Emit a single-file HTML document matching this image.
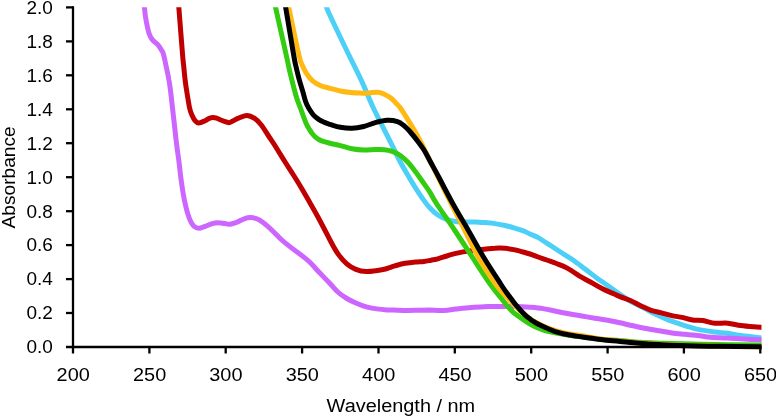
<!DOCTYPE html>
<html><head><meta charset="utf-8"><title>Absorbance spectra</title>
<style>
html,body{margin:0;padding:0;background:#fff;}
body{width:776px;height:417px;overflow:hidden;}
svg{display:block;}
text{font-family:"Liberation Sans",sans-serif;fill:#000;}
svg{will-change:transform;}
</style></head>
<body>
<svg width="776" height="417" viewBox="0 0 776 417">
<rect width="776" height="417" fill="#ffffff"/>
<defs><clipPath id="plot"><rect x="60" y="7.2" width="701.5" height="360"/></clipPath></defs>
<g clip-path="url(#plot)" fill="none" stroke-width="5.0" stroke-linejoin="round" stroke-linecap="butt">
<path stroke="#4DD0F8" d="M323.5 0.0C324.0 1.2 325.4 4.5 326.5 7.1C327.6 9.7 326.4 7.7 330.0 15.5C333.6 23.3 343.2 43.3 348.4 54.0C353.6 64.7 356.9 70.9 361.1 79.9C365.3 88.9 369.5 99.7 373.4 108.0C377.3 116.3 381.0 123.3 384.4 130.0C387.8 136.7 390.9 142.9 393.5 148.2C396.1 153.5 397.9 157.5 400.3 162.0C402.7 166.5 405.2 170.7 407.7 175.0C410.2 179.3 412.9 183.8 415.5 187.9C418.1 192.0 420.9 196.2 423.3 199.6C425.7 202.9 427.6 205.4 430.0 208.0C432.4 210.6 435.0 213.1 437.8 215.0C440.6 216.9 443.8 218.4 446.8 219.5C449.8 220.6 452.6 221.1 455.9 221.5C459.1 221.9 463.1 222.0 466.3 222.1C469.5 222.2 472.3 221.8 475.3 221.9C478.3 222.0 481.1 222.3 484.4 222.6C487.6 222.9 491.4 223.1 494.8 223.6C498.2 224.1 501.7 224.7 505.1 225.5C508.6 226.3 512.5 227.4 515.5 228.3C518.5 229.2 520.9 229.9 523.3 230.8C525.7 231.8 527.6 232.9 530.0 234.0C532.4 235.1 535.0 235.9 537.8 237.4C540.6 238.9 543.8 241.3 546.8 243.2C549.8 245.1 553.1 247.2 555.9 249.0C558.7 250.8 560.7 252.2 563.7 254.2C566.7 256.1 570.3 258.1 574.0 260.7C577.7 263.2 581.8 266.6 585.7 269.5C589.6 272.4 593.7 275.7 597.4 278.4C601.1 281.1 604.0 282.9 607.7 285.5C611.4 288.1 615.7 291.4 619.4 294.0C623.1 296.6 625.7 298.6 630.0 301.0C634.3 303.4 640.2 306.1 645.0 308.6C649.8 311.1 654.9 313.9 658.9 315.8C662.9 317.8 665.8 319.0 669.2 320.3C672.7 321.6 676.2 322.7 679.6 323.8C683.0 324.9 686.5 326.1 689.9 327.1C693.3 328.1 696.1 329.1 700.3 329.9C704.5 330.7 710.3 331.4 714.9 332.0C719.5 332.6 723.5 332.7 727.8 333.3C732.1 333.9 736.5 334.8 740.8 335.4C745.1 336.0 750.0 336.5 753.7 337.0C757.4 337.5 761.5 338.0 763.0 338.2"/>
<path stroke="#CC66FF" d="M143.6 0.0C143.7 1.2 144.1 4.3 144.4 7.1C144.7 9.9 145.0 13.7 145.5 16.8C146.0 19.9 146.5 23.0 147.2 25.9C147.8 28.8 148.5 31.9 149.4 34.3C150.3 36.7 151.3 38.5 152.7 40.2C154.1 41.9 156.3 43.0 157.8 44.7C159.3 46.4 160.8 49.0 161.7 50.5C162.6 52.0 162.6 51.2 163.4 54.0C164.2 56.8 165.4 62.7 166.3 67.0C167.2 71.3 168.2 75.6 168.9 79.9C169.7 84.2 170.2 88.2 170.8 92.9C171.4 97.6 171.8 102.2 172.5 108.0C173.2 113.8 174.0 121.4 174.7 127.4C175.4 133.5 175.9 138.5 176.6 144.3C177.3 150.1 178.3 156.5 179.0 162.0C179.7 167.5 180.1 172.3 180.8 177.5C181.5 182.7 182.3 188.3 183.1 193.1C183.9 197.8 184.8 202.2 185.7 206.0C186.6 209.8 187.6 213.4 188.5 216.0C189.4 218.6 190.0 220.1 190.9 221.8C191.8 223.5 192.8 225.3 194.1 226.4C195.4 227.5 196.9 228.3 198.7 228.3C200.5 228.3 202.9 227.2 205.1 226.4C207.2 225.7 209.4 224.4 211.6 223.8C213.8 223.2 215.9 222.8 218.1 222.7C220.3 222.6 222.6 223.2 224.6 223.5C226.6 223.8 227.8 224.5 230.0 224.2C232.2 223.9 235.4 222.7 237.8 221.8C240.2 220.9 242.0 219.5 244.2 218.8C246.3 218.1 248.3 217.5 250.7 217.6C253.1 217.7 255.9 218.3 258.5 219.6C261.1 220.8 263.7 223.0 266.3 225.1C268.9 227.2 271.4 229.7 274.0 232.2C276.6 234.7 279.2 237.6 281.8 240.0C284.4 242.4 287.0 244.3 289.6 246.4C292.2 248.5 294.8 250.4 297.4 252.3C300.0 254.2 302.7 256.2 305.1 258.1C307.5 260.0 309.6 261.9 311.6 263.9C313.6 265.9 313.9 266.7 317.0 270.0C320.1 273.3 326.5 279.9 330.0 283.6C333.5 287.3 335.0 289.5 337.8 292.0C340.6 294.5 343.8 296.7 346.8 298.5C349.8 300.3 352.6 301.6 355.9 303.0C359.1 304.4 362.9 305.9 366.3 306.9C369.8 307.9 373.2 308.4 376.6 308.9C380.1 309.4 383.5 309.7 387.0 309.9C390.5 310.1 393.9 310.1 397.4 310.2C400.8 310.3 403.8 310.4 407.7 310.4C411.6 310.4 417.0 310.2 420.7 310.2C424.4 310.1 426.1 310.1 430.0 310.1C433.9 310.2 439.9 310.7 444.2 310.5C448.5 310.3 451.3 309.5 455.9 309.0C460.4 308.5 466.1 307.8 471.5 307.4C476.9 307.0 483.6 306.8 488.3 306.6C493.1 306.5 495.6 306.5 500.0 306.5C504.4 306.5 510.0 306.3 515.0 306.4C520.0 306.5 525.3 306.8 530.0 307.2C534.7 307.6 538.7 307.9 543.0 308.6C547.3 309.3 551.6 310.3 555.9 311.2C560.2 312.1 564.6 313.0 568.9 313.8C573.2 314.6 577.5 315.3 581.8 316.0C586.1 316.7 590.5 317.5 594.8 318.2C599.1 318.9 603.5 319.4 607.7 320.2C611.9 321.0 615.8 321.9 620.0 322.8C624.2 323.7 628.7 324.9 633.0 325.8C637.3 326.8 641.6 327.7 645.9 328.5C650.2 329.3 654.6 330.1 658.9 330.8C663.2 331.5 667.5 332.3 671.8 332.9C676.1 333.5 680.5 333.8 684.8 334.2C689.1 334.6 693.4 335.0 697.7 335.5C702.0 336.0 705.7 336.9 710.7 337.3C715.7 337.7 722.8 337.9 727.8 338.1C732.8 338.3 736.5 338.4 740.8 338.7C745.1 338.9 750.0 339.4 753.7 339.6C757.4 339.8 761.5 339.9 763.0 340.0"/>
<path stroke="#C00000" d="M178.2 0.0C178.3 1.2 178.1 -1.9 178.8 7.1C179.5 16.1 181.7 44.0 182.5 54.0C183.3 64.0 183.4 62.7 183.8 67.0C184.2 71.3 184.6 75.6 185.1 79.9C185.6 84.2 186.2 88.2 187.0 92.9C187.8 97.6 188.8 104.3 189.6 108.0C190.4 111.7 191.0 113.0 191.9 115.1C192.8 117.1 193.7 119.0 194.8 120.3C195.9 121.6 197.0 122.8 198.7 122.9C200.4 123.0 203.3 121.5 205.1 120.7C206.8 120.0 207.9 118.9 209.2 118.4C210.5 117.9 211.7 117.5 212.9 117.5C214.1 117.5 215.3 117.8 216.6 118.2C217.9 118.6 218.9 119.3 220.7 120.0C222.5 120.7 225.6 121.8 227.2 122.2C228.8 122.6 228.2 123.1 230.0 122.5C231.8 121.9 235.0 119.6 237.8 118.4C240.6 117.2 244.0 115.4 246.8 115.4C249.6 115.4 252.2 116.8 254.6 118.4C257.0 120.0 258.7 121.8 261.1 124.8C263.5 127.8 266.3 132.6 268.9 136.5C271.5 140.4 274.0 144.0 276.6 148.2C279.2 152.4 282.0 157.0 284.8 161.5C287.6 166.0 290.6 170.4 293.6 175.2C296.6 179.9 299.8 185.2 302.6 190.0C305.4 194.8 308.1 199.7 310.6 204.0C313.1 208.3 315.1 211.8 317.4 216.0C319.7 220.2 322.2 225.0 324.3 229.0C326.4 233.0 327.8 235.9 330.0 240.0C332.2 244.1 335.0 249.6 337.8 253.6C340.6 257.6 343.8 261.3 346.8 263.9C349.8 266.5 352.6 268.1 355.9 269.4C359.1 270.7 362.0 271.4 366.3 271.5C370.6 271.6 377.1 270.7 381.8 269.8C386.6 268.9 390.9 267.0 394.8 265.9C398.7 264.8 401.7 263.9 405.1 263.3C408.6 262.7 412.4 262.3 415.5 262.0C418.6 261.7 421.4 261.7 424.0 261.4C426.6 261.1 428.7 260.6 431.0 260.2C433.3 259.8 435.2 259.5 437.8 258.8C440.4 258.1 443.8 256.9 446.8 256.0C449.8 255.1 452.0 254.2 455.9 253.4C459.8 252.6 465.2 251.6 470.0 250.9C474.8 250.2 480.3 249.6 484.4 249.2C488.5 248.8 491.4 248.3 494.8 248.2C498.2 248.0 501.7 248.0 505.1 248.3C508.6 248.6 512.5 249.4 515.5 250.0C518.5 250.6 520.6 251.3 523.0 252.0C525.4 252.7 527.5 253.2 530.0 254.0C532.5 254.8 535.2 256.0 538.0 257.0C540.8 258.0 543.8 258.9 546.8 260.0C549.8 261.1 552.9 262.1 555.9 263.3C558.9 264.5 562.5 265.8 565.0 267.0C567.5 268.2 568.6 268.9 571.0 270.4C573.4 271.9 575.9 273.8 579.2 275.8C582.5 277.8 587.0 280.1 590.9 282.3C594.8 284.5 598.6 286.9 602.5 288.8C606.4 290.8 611.3 292.7 614.2 294.0C617.1 295.3 617.3 295.5 620.0 296.6C622.7 297.7 626.9 299.0 630.4 300.5C633.9 302.0 637.2 304.2 640.7 305.8C644.2 307.4 647.6 309.1 651.1 310.3C654.6 311.5 658.0 312.0 661.5 312.9C665.0 313.8 668.3 314.9 671.8 315.6C675.2 316.4 678.8 316.7 682.2 317.4C685.7 318.1 689.0 319.5 692.5 320.0C696.0 320.5 699.2 320.1 702.9 320.6C706.6 321.1 710.8 322.8 714.9 323.2C719.0 323.6 723.5 322.8 727.8 323.2C732.1 323.6 736.5 324.9 740.8 325.5C745.1 326.1 750.0 326.5 753.7 326.8C757.4 327.1 761.5 327.2 763.0 327.3"/>
<path stroke="#33CC11" d="M273.9 0.0C274.2 1.2 273.5 -1.9 275.5 7.1C277.5 16.1 283.6 43.4 286.0 54.0C288.4 64.6 288.4 65.4 289.6 70.8C290.9 76.2 292.3 81.9 293.5 86.4C294.7 90.9 295.6 94.4 296.7 98.0C297.8 101.6 299.1 104.6 300.4 108.0C301.6 111.4 303.2 115.7 304.2 118.4C305.2 121.1 305.5 122.2 306.4 124.0C307.2 125.8 308.3 127.6 309.3 129.2C310.3 130.8 311.2 132.3 312.2 133.6C313.2 134.9 314.3 136.2 315.5 137.2C316.7 138.2 317.9 139.0 319.2 139.7C320.5 140.4 321.5 140.8 323.3 141.4C325.1 142.0 327.1 142.5 330.0 143.2C332.9 143.9 336.7 144.7 340.4 145.6C344.1 146.5 348.1 148.1 352.0 148.8C355.9 149.6 359.8 150.0 363.7 150.1C367.6 150.2 371.9 149.6 375.3 149.5C378.8 149.4 381.6 149.4 384.4 149.7C387.2 150.0 389.6 150.5 392.2 151.4C394.8 152.3 397.3 153.5 399.9 155.3C402.5 157.1 405.1 159.3 407.7 162.0C410.3 164.7 412.9 168.2 415.5 171.7C418.1 175.1 420.9 179.2 423.3 182.7C425.7 186.1 427.8 188.8 430.0 192.4C432.2 196.0 432.7 197.7 436.8 204.0C440.9 210.3 448.6 221.2 454.5 230.0C460.4 238.8 466.3 248.0 472.2 257.0C478.1 266.0 485.3 277.2 490.1 284.0C494.9 290.8 498.2 294.4 501.0 298.0C503.8 301.6 504.8 302.9 506.8 305.3C508.9 307.7 510.6 310.0 513.3 312.4C516.0 314.8 520.0 317.3 523.0 319.4C526.0 321.5 528.9 323.4 531.4 324.8C533.9 326.2 535.6 327.0 538.0 328.0C540.4 329.0 542.9 330.0 545.9 330.8C548.9 331.6 552.8 332.3 556.3 333.0C559.8 333.7 562.9 334.2 566.6 334.8C570.3 335.4 574.4 336.0 578.3 336.5C582.2 337.0 585.8 337.5 589.9 338.0C594.0 338.5 597.9 339.0 602.9 339.4C607.9 339.8 613.8 340.1 620.0 340.6C626.2 341.1 633.3 341.9 640.0 342.3C646.7 342.8 650.0 343.0 660.0 343.3C670.0 343.6 682.8 344.0 700.0 344.3C717.2 344.6 752.5 345.0 763.0 345.1"/>
<path stroke="#FFB912" d="M287.2 0.0C287.4 1.2 286.8 -1.9 288.7 7.1C290.6 16.1 296.5 44.5 298.7 54.0C300.9 63.5 300.6 61.2 301.9 64.4C303.2 67.6 304.6 70.6 306.4 73.4C308.2 76.2 310.5 79.2 312.9 81.2C315.3 83.2 317.8 84.5 320.7 85.7C323.6 86.9 326.7 87.4 330.0 88.3C333.3 89.2 336.9 90.3 340.4 91.0C343.8 91.7 347.5 92.2 350.7 92.5C353.9 92.8 356.8 93.0 359.8 93.1C362.8 93.2 365.9 93.1 368.9 92.9C371.9 92.8 375.3 92.0 377.9 92.2C380.5 92.4 382.2 93.2 384.4 94.2C386.6 95.2 388.9 96.5 390.9 98.0C392.8 99.5 394.5 101.5 396.1 103.2C397.7 104.9 398.5 105.4 400.4 108.0C402.2 110.6 404.9 114.9 407.2 118.6C409.5 122.3 411.9 126.2 414.3 130.3C416.7 134.4 419.5 139.6 421.3 143.0C423.1 146.4 423.6 147.6 425.0 150.5C426.4 153.4 427.6 156.1 429.8 160.5C432.0 164.9 434.4 169.8 438.0 177.0C441.6 184.2 446.9 195.2 451.3 204.0C455.7 212.8 460.1 221.2 464.6 230.0C469.1 238.8 473.1 248.0 478.2 257.0C483.3 266.0 490.3 276.8 495.5 284.0C500.7 291.2 505.4 295.5 509.5 300.0C513.6 304.5 516.9 307.9 520.3 311.0C523.7 314.1 526.7 316.6 530.0 318.8C533.3 321.0 537.2 323.0 540.0 324.4C542.8 325.8 543.8 326.2 546.5 327.3C549.2 328.4 553.3 330.1 556.3 331.0C559.3 331.9 560.7 332.3 564.4 333.0C568.1 333.7 574.0 334.6 578.3 335.3C582.5 336.0 585.8 336.5 589.9 337.1C594.0 337.8 597.9 338.6 602.9 339.2C607.9 339.8 613.8 340.4 620.0 341.0C626.2 341.6 630.0 342.3 640.0 343.0C650.0 343.7 666.7 344.8 680.0 345.3C693.3 345.9 706.2 346.1 720.0 346.3C733.8 346.6 755.8 346.7 763.0 346.8"/>
<path stroke="#000000" d="M284.4 0.0C284.6 1.2 284.1 -1.9 285.6 7.1C287.1 16.1 291.8 44.0 293.5 54.0C295.2 64.0 295.1 62.7 296.1 67.0C297.1 71.3 298.1 75.6 299.3 79.9C300.5 84.2 302.1 89.3 303.2 92.9C304.2 96.5 304.7 98.9 305.6 101.5C306.5 104.1 307.5 106.1 308.8 108.3C310.1 110.5 311.6 112.9 313.3 114.8C315.0 116.7 317.1 118.3 319.0 119.6C320.9 120.9 322.7 121.6 324.5 122.4C326.3 123.2 327.4 123.5 330.0 124.3C332.6 125.1 336.7 126.7 340.4 127.3C344.1 127.9 348.1 128.3 352.0 128.2C355.9 128.1 359.8 127.4 363.7 126.5C367.6 125.6 371.4 123.6 375.3 122.6C379.2 121.6 383.3 120.5 387.0 120.3C390.7 120.1 394.6 120.7 397.4 121.6C400.2 122.5 401.6 123.8 403.8 125.5C406.0 127.2 407.9 129.3 410.3 132.0C412.7 134.7 415.8 138.7 418.1 141.7C420.4 144.7 422.0 146.8 424.0 150.0C426.0 153.2 427.6 156.5 430.0 161.0C432.4 165.5 434.9 169.8 438.7 177.0C442.5 184.2 448.1 195.2 453.0 204.0C457.9 212.8 463.0 221.2 468.1 230.0C473.2 238.8 478.1 248.0 483.5 257.0C488.9 266.0 496.9 278.1 500.7 284.0C504.5 289.9 504.4 289.6 506.3 292.3C508.2 295.0 510.4 297.8 512.1 300.0C513.8 302.2 515.0 303.9 516.5 305.7C518.0 307.5 519.7 309.4 521.2 311.0C522.7 312.6 524.0 314.0 525.5 315.4C527.0 316.8 528.7 318.0 530.3 319.2C531.9 320.4 533.4 321.3 535.0 322.3C536.6 323.3 538.1 324.1 540.0 325.0C541.9 325.9 543.8 326.9 546.5 328.0C549.2 329.1 553.3 330.9 556.3 331.9C559.3 332.9 562.1 333.5 564.4 334.0C566.7 334.5 567.7 334.6 570.0 335.0C572.3 335.4 575.0 335.9 578.3 336.4C581.6 336.9 585.8 337.4 589.9 338.0C594.0 338.6 597.9 339.2 602.9 339.8C607.9 340.4 613.9 340.8 620.0 341.4C626.1 342.0 632.9 342.8 639.4 343.3C645.9 343.8 652.1 344.2 658.9 344.6C665.7 345.0 669.8 345.3 680.0 345.6C690.2 345.9 706.2 346.1 720.0 346.3C733.8 346.5 755.8 346.7 763.0 346.8"/>
</g>
<g stroke="#000" stroke-width="2.3" fill="none">
<path d="M73 6.2V348.1"/>
<path d="M66 347H761.5"/>
<path d="M66 7.4H73"/>
<path d="M66 41.4H73"/>
<path d="M66 75.3H73"/>
<path d="M66 109.3H73"/>
<path d="M66 143.2H73"/>
<path d="M66 177.2H73"/>
<path d="M66 211.2H73"/>
<path d="M66 245.1H73"/>
<path d="M66 279.1H73"/>
<path d="M66 313.0H73"/>
<path d="M73.0 347V353.5"/>
<path d="M149.4 347V353.5"/>
<path d="M225.7 347V353.5"/>
<path d="M302.1 347V353.5"/>
<path d="M378.5 347V353.5"/>
<path d="M454.8 347V353.5"/>
<path d="M531.2 347V353.5"/>
<path d="M607.6 347V353.5"/>
<path d="M683.9 347V353.5"/>
<path d="M760.3 347V353.5"/>
</g>
<g font-size="19.0" text-anchor="end">
<text x="52.8" y="13.7" textLength="26.4" lengthAdjust="spacingAndGlyphs">2.0</text>
<text x="52.8" y="47.7" textLength="26.4" lengthAdjust="spacingAndGlyphs">1.8</text>
<text x="52.8" y="81.6" textLength="26.4" lengthAdjust="spacingAndGlyphs">1.6</text>
<text x="52.8" y="115.6" textLength="26.4" lengthAdjust="spacingAndGlyphs">1.4</text>
<text x="52.8" y="149.5" textLength="26.4" lengthAdjust="spacingAndGlyphs">1.2</text>
<text x="52.8" y="183.5" textLength="26.4" lengthAdjust="spacingAndGlyphs">1.0</text>
<text x="52.8" y="217.5" textLength="26.4" lengthAdjust="spacingAndGlyphs">0.8</text>
<text x="52.8" y="251.4" textLength="26.4" lengthAdjust="spacingAndGlyphs">0.6</text>
<text x="52.8" y="285.4" textLength="26.4" lengthAdjust="spacingAndGlyphs">0.4</text>
<text x="52.8" y="319.3" textLength="26.4" lengthAdjust="spacingAndGlyphs">0.2</text>
<text x="52.8" y="353.3" textLength="26.4" lengthAdjust="spacingAndGlyphs">0.0</text>
</g>
<g font-size="19.0" text-anchor="middle">
<text x="73.2" y="380.9" textLength="33.2" lengthAdjust="spacingAndGlyphs">200</text>
<text x="149.6" y="380.9" textLength="33.2" lengthAdjust="spacingAndGlyphs">250</text>
<text x="225.9" y="380.9" textLength="33.2" lengthAdjust="spacingAndGlyphs">300</text>
<text x="302.3" y="380.9" textLength="33.2" lengthAdjust="spacingAndGlyphs">350</text>
<text x="378.7" y="380.9" textLength="33.2" lengthAdjust="spacingAndGlyphs">400</text>
<text x="455.0" y="380.9" textLength="33.2" lengthAdjust="spacingAndGlyphs">450</text>
<text x="531.4" y="380.9" textLength="33.2" lengthAdjust="spacingAndGlyphs">500</text>
<text x="607.8" y="380.9" textLength="33.2" lengthAdjust="spacingAndGlyphs">550</text>
<text x="684.1" y="380.9" textLength="33.2" lengthAdjust="spacingAndGlyphs">600</text>
<text x="760.5" y="380.9" textLength="33.2" lengthAdjust="spacingAndGlyphs">650</text>
</g>
<text font-size="18.0" x="326.6" y="412.3" textLength="148.6" lengthAdjust="spacingAndGlyphs">Wavelength / nm</text>
<text font-size="18.0" transform="translate(15 228.5) rotate(-90)" x="0" y="0" textLength="102.2" lengthAdjust="spacingAndGlyphs">Absorbance</text>
</svg>
</body></html>
